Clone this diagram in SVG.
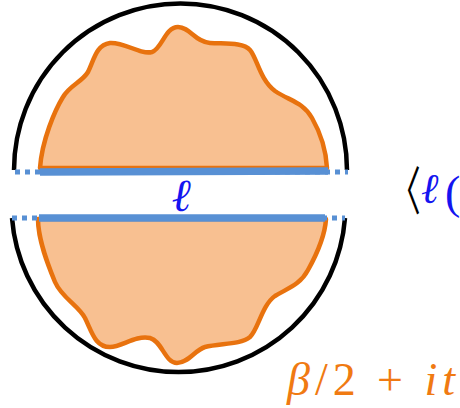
<svg xmlns="http://www.w3.org/2000/svg" width="460" height="408" viewBox="0 0 460 408">
<style>
.arc{fill:none;stroke:#000;stroke-width:4.5}
.blob{fill:#F8C091;stroke:#E8720E;stroke-width:4.5;stroke-linejoin:round}
.dots{fill:none;stroke:#5890D4;stroke-width:5;stroke-dasharray:5 5}
.cut{fill:none;stroke:#5890D4;stroke-width:7.5}
.lbl{font-family:"Liberation Serif","DejaVu Serif",serif}
</style>
<rect width="460" height="408" fill="#fff"/>
<g id="boundary">
<path class="arc" d="M14,170 A166.5,166.5 0 0 1 347,170"/>
<path class="arc" d="M12,218 A167,167 0 0 0 345,218"/>
</g>
<g id="upper-region">
<path class="blob" d="M40,168 C42,140 55,110 63,97 C70,85 82,82 88,72 C94,60 96,45 110,43 C125,42 140,55 152,52 C162,49 165,27 178,27 C190,27 195,42 210,43 C225,44 243,42 250,50 C257,58 260,80 275,91 C290,101 303,102 312,118 C320,132 326,150 327,168 Z"/>
</g>
<g id="lower-region">
<path class="blob" d="M38,219 C38,240 48,265 55,282 C62,298 78,305 85,318 C92,332 95,347 110,347 C122,347 135,335 150,338 C162,341 165,363 177,363 C188,363 195,350 205,347 C220,343 240,345 250,337 C258,330 262,305 275,296 C288,288 300,285 308,270 C318,252 325,235 326,219 Z"/>
</g>
<g id="connectors">
<path class="dots" d="M15,172 H348"/>
<path class="dots" d="M12,218 H345"/>
<path class="cut" d="M40,172 L328,171"/>
<path class="cut" d="M39,218 L325,218"/>
</g>
<g id="labels" class="lbl">
<text x="181" y="211" font-size="46" font-style="italic" fill="#1414F0" text-anchor="middle">ℓ</text>
<text transform="translate(389.5,210) scale(0.6,1)" x="0" y="0" font-size="52" font-family="Noto Sans CJK SC,sans-serif" fill="#000">〈</text>
<text x="421" y="203" font-size="42" font-style="italic" fill="#1414F0">ℓ</text>
<text x="445" y="208" font-size="46" fill="#1414F0">(</text>
<text x="287" y="395" font-size="46" fill="#F07A12" textLength="168" lengthAdjust="spacing"><tspan font-style="italic">β</tspan>/2 + <tspan font-style="italic">it</tspan></text>
</g>
</svg>
